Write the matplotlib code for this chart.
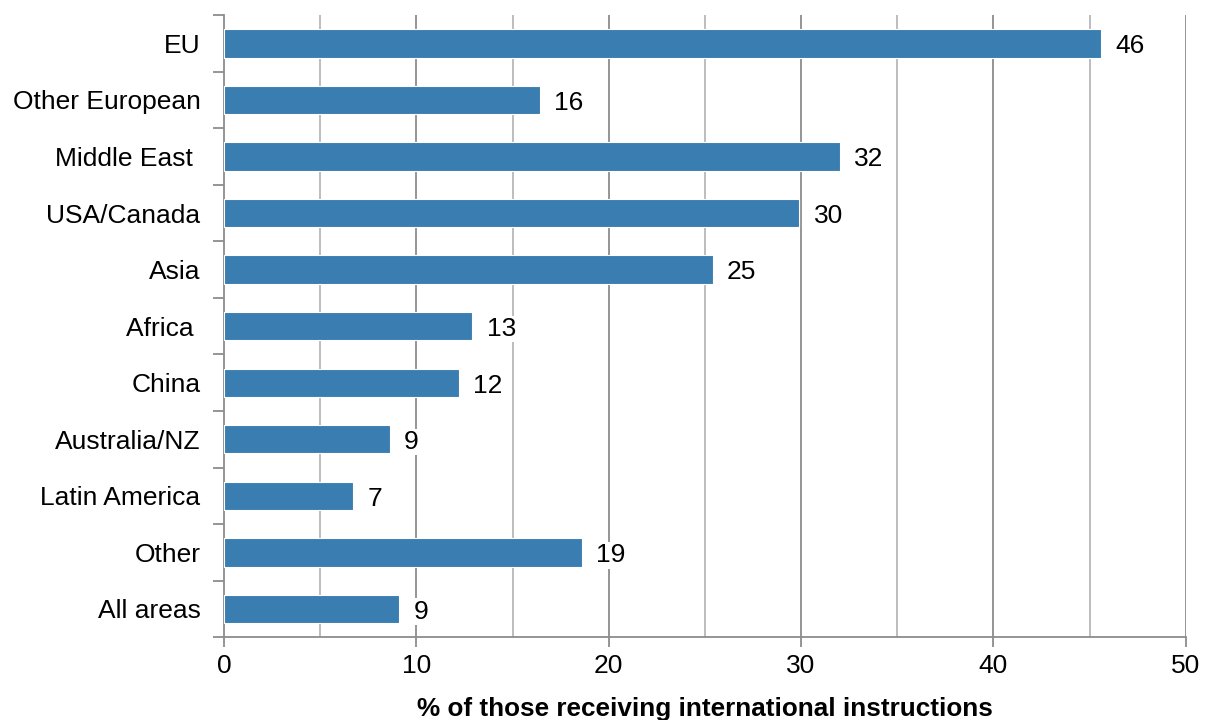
import matplotlib.pyplot as plt
import numpy as np

plt.rcParams['font.family'] = ['Liberation Sans', 'DejaVu Sans']

# regions, top to bottom as shown
regions = ['EU', 'Other European', 'Middle East ', 'USA/Canada', 'Asia', 'Africa ',
           'China', 'Australia/NZ', 'Latin America', 'Other', 'All areas']
values = [45.6, 16.4, 32.0, 29.9, 25.4, 12.9, 12.2, 8.6, 6.7, 18.6, 9.1]
labels = ['46', '16', '32', '30', '25', '13', '12', '9', '7', '19', '9']

fig, ax = plt.subplots(figsize=(12.05, 7.2), dpi=100)
fig.subplots_adjust(left=0.186, right=0.984, top=0.979, bottom=0.115)

y = np.arange(len(regions))
ax.barh(y, values, height=0.5, color='#3a7db1', edgecolor='white', linewidth=0.8, zorder=3)

# data labels with white box that hides the gridlines
for yi, v, lab in zip(y, values, labels):
    ax.text(v + 0.75, yi + 0.05, lab, va='center', ha='left', fontsize=19,
            bbox=dict(facecolor='white', edgecolor='none', pad=1), zorder=4)

ax.set_xlim(0, 50)
ax.set_ylim(len(regions) - 0.5, -0.5)

# gridlines: darker at 10s, lighter at 5s
for gx in range(5, 51, 5):
    col = '#8c8c8c' if gx % 10 == 0 else '#b8b8b8'
    ax.axvline(gx, color=col, linewidth=1.3, zorder=1)

ax.set_xticks(np.arange(0, 51, 10))
ax.tick_params(axis='x', labelsize=19, length=7, width=1.3, color='#8c8c8c', pad=5)

# category labels centred, ticks at category boundaries
ax.set_yticks(y)
ax.set_yticklabels(regions, fontsize=19)
ax.tick_params(axis='y', which='major', length=0, pad=17)
ax.set_yticks(np.arange(-0.5, len(regions), 1), minor=True)
ax.tick_params(axis='y', which='minor', length=8, width=1.3, color='#8c8c8c')

for side in ['top', 'right']:
    ax.spines[side].set_visible(False)
for side in ['left', 'bottom']:
    ax.spines[side].set_color('#8c8c8c')
    ax.spines[side].set_linewidth(1.3)

ax.set_xlabel('% of those receiving international instructions', fontsize=18.8,
              fontweight='bold', labelpad=14)

plt.savefig('out.png', dpi=100)
